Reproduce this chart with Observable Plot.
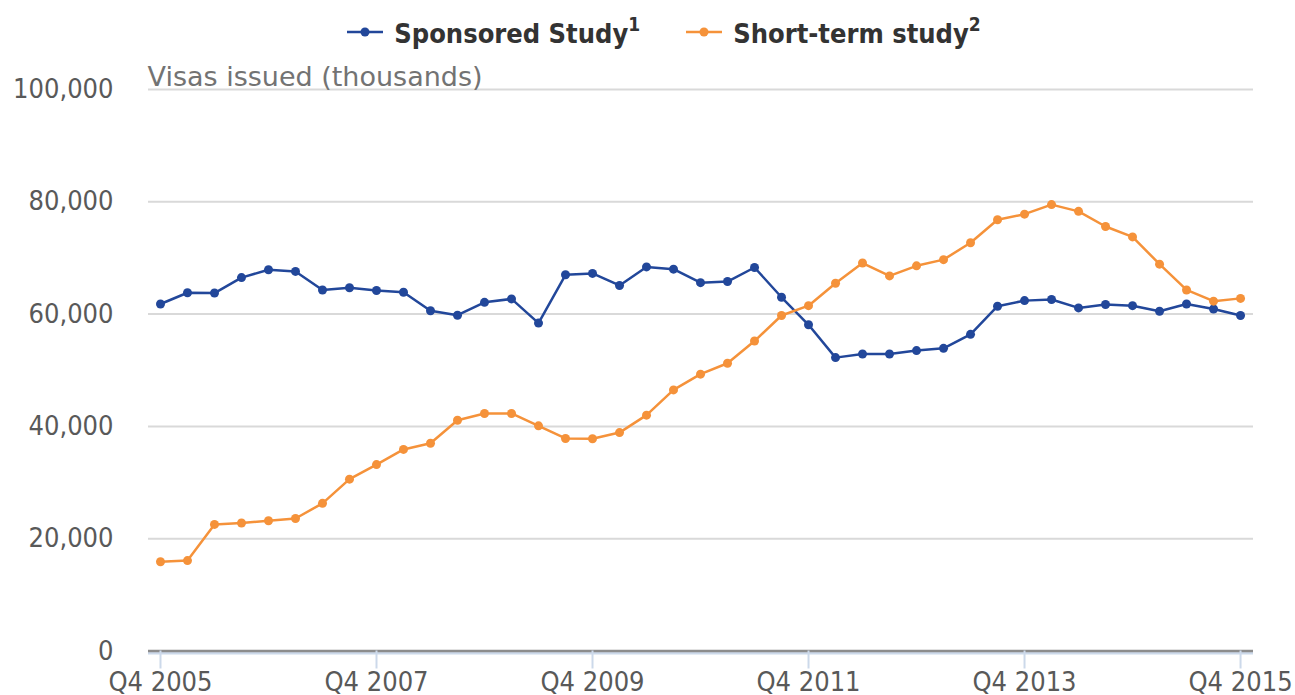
<!DOCTYPE html>
<html>
<head>
<meta charset="utf-8">
<script src="https://cdn.jsdelivr.net/npm/d3@7"></script>
<script src="https://cdn.jsdelivr.net/npm/@observablehq/plot@0.6"></script>
<style>
  body { margin: 0; background: #fff; }
  #legend { height: 60px; box-sizing: border-box; padding-top: 4px; padding-left: 33px; display: flex; justify-content: center; align-items: center; }
  .item { display: flex; align-items: center; font-family: "DejaVu Sans Condensed", "DejaVu Sans", sans-serif; font-stretch: condensed; font-weight: bold; font-size: 27px; color: #333; }
  .item svg { margin-right: 11px; }
  .item sup { font-size: 19px; position: relative; top: -2px; }
  .item + .item { margin-left: 46px; }
</style>
</head>
<body>
<div id="legend"></div>
<div id="chart"></div>
<script>
const quarters = [
  "Q4 2005","Q1 2006","Q2 2006","Q3 2006","Q4 2006","Q1 2007","Q2 2007","Q3 2007","Q4 2007",
  "Q1 2008","Q2 2008","Q3 2008","Q4 2008","Q1 2009","Q2 2009","Q3 2009","Q4 2009",
  "Q1 2010","Q2 2010","Q3 2010","Q4 2010","Q1 2011","Q2 2011","Q3 2011","Q4 2011",
  "Q1 2012","Q2 2012","Q3 2012","Q4 2012","Q1 2013","Q2 2013","Q3 2013","Q4 2013",
  "Q1 2014","Q2 2014","Q3 2014","Q4 2014","Q1 2015","Q2 2015","Q3 2015","Q4 2015"
];
const sponsored = [
  61800, 63800, 63750, 66500, 67900, 67600, 64300, 64700, 64200,
  63900, 60600, 59800, 62100, 62700, 58400, 67000, 67250,
  65100, 68400, 68000, 65600, 65800, 68300, 63000, 58100,
  52250, 52900, 52900, 53500, 53900, 56400, 61400, 62400,
  62600, 61100, 61700, 61500, 60500, 61800, 60900, 59750
];
const shortTerm = [
  15900, 16100, 22550, 22800, 23200, 23600, 26300, 30600, 33200,
  35900, 37000, 41100, 42300, 42300, 40100, 37850, 37800,
  38900, 42000, 46500, 49300, 51250, 55200, 59750, 61500,
  65500, 69100, 66800, 68600, 69700, 72700, 76800, 77800,
  79500, 78300, 75600, 73750, 68900, 64300, 62300, 62800
];
const seriesNames = ["Sponsored Study", "Short-term study"];
const seriesSup = ["1", "2"];
const seriesColors = ["#22479a", "#f5923a"];
const xTickLabels = ["Q4 2005","Q4 2007","Q4 2009","Q4 2011","Q4 2013","Q4 2015"];
const yTicks = [0, 20000, 40000, 60000, 80000, 100000];
const yTitle = "Visas issued (thousands)";

// legend
const legend = document.getElementById("legend");
seriesNames.forEach((name, i) => {
  const item = document.createElement("div");
  item.className = "item";
  item.innerHTML = `<svg width="36" height="12"><line x1="0" x2="36" y1="6" y2="6" stroke="${seriesColors[i]}" stroke-width="2.5"/><circle cx="18" cy="6" r="4.5" fill="${seriesColors[i]}"/></svg><span>${name}<sup>${seriesSup[i]}</sup></span>`;
  legend.appendChild(item);
});

const data = [];
quarters.forEach((q, i) => {
  data.push({i, q, series: seriesNames[0], value: sponsored[i]});
});
quarters.forEach((q, i) => {
  data.push({i, q, series: seriesNames[1], value: shortTerm[i]});
});
const xTickIdx = xTickLabels.map(l => quarters.indexOf(l));
const tickFont = '"DejaVu Sans Condensed", "DejaVu Sans", sans-serif';

const chart = Plot.plot({
  width: 1295,
  height: 635,
  marginLeft: 148,
  marginRight: 42,
  marginTop: 29,
  marginBottom: 44.5,
  style: { fontFamily: tickFont, fontSize: "27px", color: "#595959", background: "#fff", fontStretch: "condensed" },
  x: { domain: [-0.444, 40.48], label: null },
  y: { domain: [0, 100000], label: null },
  color: { domain: seriesNames, range: seriesColors },
  marks: [
    Plot.gridY(yTicks.filter(d => d > 0), { stroke: "#d9d9d9", strokeOpacity: 1, strokeWidth: 2 }),
    Plot.ruleY([0], { stroke: "#ccd9ea", strokeWidth: 2.5, dy: 2.2 }),
    Plot.ruleY([0], { stroke: "#8c8c8c", strokeWidth: 2.5 }),
    Plot.axisY(yTicks, { tickSize: 0, tickPadding: 35, tickFormat: d3.format(","), fill: "#595959", fontSize: 27, label: null }),
    Plot.axisX(xTickIdx, { tickSize: 18, tickPadding: 3, stroke: "#ccd9ea", strokeWidth: 2, fill: "#595959", fontSize: 27, tickFormat: (d, k) => xTickLabels[k], label: null }),
    Plot.text([yTitle], { frameAnchor: "top-left", textAnchor: "start", lineAnchor: "bottom", dx: -1, dy: -4, fill: "#737373", fontSize: 27, fontFamily: '"DejaVu Sans", sans-serif' }),
    Plot.line(data, { x: "i", y: "value", stroke: "series", strokeWidth: 2.5 }),
    Plot.dot(data, { x: "i", y: "value", fill: "series", r: 4.5, stroke: "none" })
  ]
});
d3.select(chart).selectAll("text").filter(function () { return this.textContent === yTitle; })
  .style("font-stretch", "normal");
d3.select(chart).selectAll("g").filter(function () {
  const t = this.querySelector(":scope > text");
  return t && t.textContent === yTitle;
}).style("font-stretch", "normal");
document.getElementById("chart").appendChild(chart);
</script>
</body>
</html>
